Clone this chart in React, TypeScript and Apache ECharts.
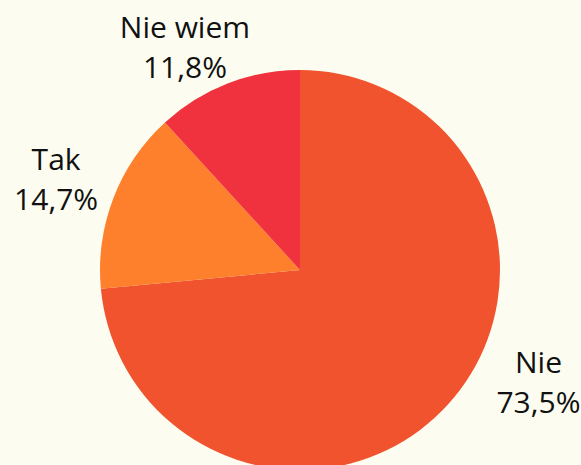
import React, { useEffect, useRef } from "react";
import * as echarts from "echarts";

const categories = ["Nie", "Tak", "Nie wiem"];
const values = [73.5, 14.7, 11.8];
const colors = ["#F0532E", "#FE7F2C", "#F0323F"];

const W = 581;
const H = 465;
const CX = 300;
const CY = 270;
const R = 200;
const LABEL_R = 256;
// small horizontal label nudges (px), by slice index
const LABEL_NUDGE_X = [8, -5, 10];

function midAngle(idx: number): number {
  const total = values.reduce((a, b) => a + b, 0);
  let acc = 0;
  for (let i = 0; i < idx; i++) acc += values[i];
  return ((acc + values[idx] / 2) / total) * 360; // degrees clockwise from top
}

export default function App() {
  const ref = useRef<HTMLDivElement>(null);
  useEffect(() => {
    document.body.style.margin = "0";
    const chart = echarts.init(ref.current!, null, { renderer: "svg" });
    chart.setOption({
      animation: false,
      backgroundColor: "#FCFDF0",
      series: [
        {
          type: "pie",
          center: [CX, CY],
          radius: R,
          startAngle: 90,
          clockwise: true,
          data: categories.map((c, i) => ({
            name: c,
            value: values[i],
            itemStyle: { color: colors[i] },
          })),
          label: {
            show: true,
            position: "outside",
            formatter: (p: any) => `${p.name}\n${String(p.value).replace(".", ",")}%`,
            fontFamily: "Open Sans",
            fontSize: 30,
            lineHeight: 40,
            color: "#111111",
            align: "center",
            overflow: "none",
            width: 170,
          },
          labelLine: { show: false },
          labelLayout: (p: any) => {
            const h = p.labelRect.height;
            let a = midAngle(p.dataIndex);
            const fits = (ang: number) => {
              const rad = (ang * Math.PI) / 180;
              const y = CY - Math.cos(rad) * LABEL_R;
              return y - h / 2 >= 6 && y + h / 2 <= 423;
            };
            const nearest = a < 180 ? 90 : 270;
            let guard = 0;
            while (!fits(a) && guard < 400) {
              a += a < nearest ? 0.5 : -0.5;
              guard++;
            }
            const rad = (a * Math.PI) / 180;
            return {
              x: CX + Math.sin(rad) * LABEL_R + LABEL_NUDGE_X[p.dataIndex],
              y: CY - Math.cos(rad) * LABEL_R,
              align: "center",
              verticalAlign: "middle",
            };
          },
        },
      ],
    });
    return () => chart.dispose();
  }, []);
  return <div ref={ref} style={{ width: W, height: H }} />;
}
